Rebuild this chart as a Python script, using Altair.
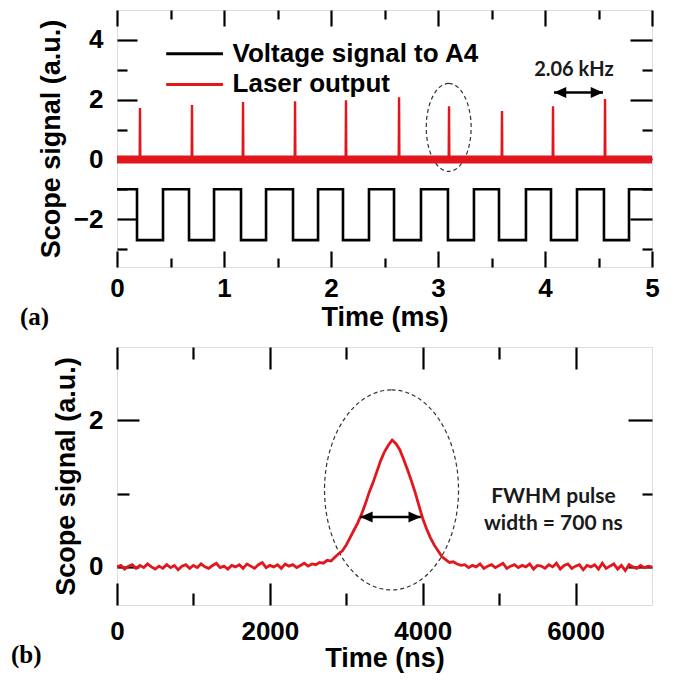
import altair as alt
import pandas as pd

# ---------------- data : panel (a) ----------------
pulse_times_ms = [0.215, 0.701, 1.178, 1.664, 2.140, 2.636, 3.103, 3.598, 4.075, 4.561]
pulse_heights = [1.72, 1.82, 1.92, 1.95, 1.98, 2.08, 1.78, 1.62, 1.78, 2.02]
laser_baseline = 0.0
fall_times_ms = [0.187, 0.673, 1.159, 1.645, 2.112, 2.589, 3.093, 3.570, 4.056, 4.551]
rise_times_ms = [0.430, 0.907, 1.393, 1.879, 2.355, 2.841, 3.336, 3.822, 4.299, 4.785]
square_high = -1.0
square_low = -2.7
time_span_ms = [0.0, 5.0]
legend_labels = ["Voltage signal to A4", "Laser output"]
freq_label = "2.06 kHz"

# ---------------- data : panel (b) ----------------
t_ns = list(range(0, 7001, 50))
signal_b = [
    0.00, 0.02, -0.03, 0.01, 0.03, -0.02, 0.02, -0.01, 0.04, 0.00,
    -0.03, 0.01, -0.02, 0.03, -0.01, 0.02, -0.04, 0.01, 0.03, -0.02,
    0.02, -0.01, 0.04, 0.00, -0.02, 0.02, 0.05, -0.01, 0.01, -0.03,
    0.02, 0.00, 0.03, -0.02, 0.04, 0.01, -0.02, 0.03, 0.06, -0.01,
    0.02, 0.00, 0.03, -0.02, 0.04, 0.01, 0.03, -0.01, 0.02, 0.05,
    0.01, 0.04, 0.03, 0.06, 0.05, 0.09, 0.08, 0.13, 0.18, 0.22,
    0.30, 0.40, 0.50, 0.60, 0.72, 0.86, 1.02, 1.15, 1.30, 1.45,
    1.57, 1.66, 1.73, 1.68, 1.60, 1.47, 1.33, 1.18, 1.02, 0.84,
    0.66, 0.52, 0.40, 0.30, 0.22, 0.14, 0.10, 0.06, 0.07, 0.04,
    0.02, 0.03, -0.01, 0.02, 0.00, 0.04, -0.02, 0.01, 0.03, -0.01,
    0.02, 0.05, -0.02, 0.01, 0.03, -0.01, 0.02, 0.00, 0.04, -0.03,
    0.02, 0.01, -0.02, 0.03, 0.00, 0.05, -0.03, 0.02, 0.04, -0.02,
    0.01, 0.03, -0.04, 0.02, 0.00, 0.03, -0.03, 0.05, -0.02, 0.01,
    0.04, -0.03, 0.02, -0.05, 0.03, 0.00, -0.02, 0.02, -0.01, 0.01,
    0.00,
]
fwhm_label = ["FWHM pulse", "width = 700 ns"]

# ---------------- styling ----------------
RED = "#e2161d"
FONT = "Liberation Sans"
W = 535
H_A = 257
H_B = 258

# ---------------- tables ----------------
events = sorted([(t, "fall") for t in fall_times_ms] + [(t, "rise") for t in rise_times_ms])
sq_t, sq_v = [time_span_ms[0]], [square_high]
for t, kind in events:
    if kind == "fall":
        sq_t += [t, t]
        sq_v += [square_high, square_low]
    else:
        sq_t += [t, t]
        sq_v += [square_low, square_high]
sq_t.append(time_span_ms[1])
sq_v.append(square_high)
square_df = pd.DataFrame({"t": sq_t, "v": sq_v, "i": range(len(sq_t))})

sp_t, sp_v = [time_span_ms[0]], [laser_baseline]
for t, h in zip(pulse_times_ms, pulse_heights):
    sp_t += [t - 0.003, t, t + 0.003]
    sp_v += [laser_baseline, h, laser_baseline]
sp_t.append(time_span_ms[1])
sp_v.append(laser_baseline)
spike_df = pd.DataFrame({"t": sp_t, "v": sp_v, "i": range(len(sp_t))})

base_df = pd.DataFrame({"t": [time_span_ms[0]], "t2": [time_span_ms[1]], "v": [laser_baseline]})

pulse_df = pd.DataFrame({"t": t_ns, "v": signal_b})

# ---------------- axes helpers ----------------
def label_axis(orient, values, title, lpad, tpad):
    return alt.Axis(
        orient=orient, values=values, ticks=False, domain=False, grid=False,
        labelPadding=lpad, labelFlush=False, labelOverlap=False, format="d",
        labelFont=FONT, labelFontSize=26, labelFontWeight="bold", labelColor="black",
        title=title, titleFont=FONT, titleFontSize=27, titleFontWeight="bold",
        titleColor="black", titlePadding=tpad,
    )


def tick_axis(orient, values, offset, test, major, minor):
    return alt.Axis(
        orient=orient, values=values, offset=offset, labels=False, domain=False,
        grid=False, title=None, tickColor="black", tickWidth=2.2,
        tickSize={"condition": {"test": test, "value": major}, "value": minor},
    )


# ---------------- panel (a) ----------------
xs_a = alt.Scale(domain=[0, 5], nice=False, zero=False)
ys_a = alt.Scale(domain=[-3.6, 5], nice=False, zero=False)
xt_a = [0, 0.5, 1, 1.5, 2, 2.5, 3, 3.5, 4, 4.5, 5]
yt_a = [-3, -2, -1, 0, 1, 2, 3, 4]

sq = alt.Chart(square_df).mark_line(color="black", strokeWidth=2.6, interpolate="linear").encode(
    x=alt.X("t:Q", scale=xs_a, axis=label_axis("bottom", [0, 1, 2, 3, 4, 5], "Time (ms)", 8, 3)),
    y=alt.Y("v:Q", scale=ys_a, axis=label_axis("left", [-2, 0, 2, 4], "Scope signal (a.u.)", 14, 8)),
    order=alt.Order("i:Q"),
)
base = alt.Chart(base_df).mark_rule(color=RED, strokeWidth=8).encode(
    x=alt.X("t:Q", scale=xs_a, axis=tick_axis("top", xt_a, -H_A, "datum.value % 1 == 0", 16, 9)),
    x2="t2:Q",
    y=alt.Y("v:Q", scale=ys_a, axis=tick_axis("right", yt_a, -W, "datum.value % 2 == 0", 20, 10)),
)
spikes = alt.Chart(spike_df).mark_line(color=RED, strokeWidth=2.4).encode(
    x=alt.X("t:Q", scale=xs_a, axis=tick_axis("bottom", xt_a, -H_A, "datum.value % 1 == 0", 16, 9)),
    y=alt.Y("v:Q", scale=ys_a, axis=tick_axis("left", yt_a, -W, "datum.value % 2 == 0", 22, 10)),
    order=alt.Order("i:Q"),
)

leg_df = pd.DataFrame({
    "x1": [0.46, 0.46], "x2": [0.99, 0.99], "y": [3.54, 2.51],
    "tx": [1.08, 1.08], "label": legend_labels, "c": ["black", RED],
})
leg_lines = alt.Chart(leg_df).mark_rule(strokeWidth=3).encode(
    x=alt.X("x1:Q", scale=xs_a, axis=None), x2="x2:Q",
    y=alt.Y("y:Q", scale=ys_a, axis=None),
    color=alt.Color("c:N", scale=None),
)
leg_text = alt.Chart(leg_df).mark_text(
    align="left", baseline="middle", font=FONT, fontSize=26, fontWeight="bold", color="black"
).encode(
    x=alt.X("tx:Q", scale=xs_a, axis=None), y=alt.Y("y:Q", scale=ys_a, axis=None), text="label:N"
)

ann_a = pd.DataFrame({"x": [4.27], "y": [2.98], "label": [freq_label]})
freq_text = alt.Chart(ann_a).mark_text(
    font="Lato", fontSize=20, fontWeight="bold", color="#1a1a1a", baseline="middle"
).encode(x=alt.X("x:Q", scale=xs_a, axis=None), y=alt.Y("y:Q", scale=ys_a, axis=None), text="label:N")

arrow_a = pd.DataFrame({"x1": [4.084], "x2": [4.542], "y": [2.24]})
arr_line_a = alt.Chart(arrow_a).mark_rule(color="black", strokeWidth=2.5).encode(
    x=alt.X("x1:Q", scale=xs_a, axis=None), x2="x2:Q", y=alt.Y("y:Q", scale=ys_a, axis=None)
)
LEFT_HEAD = "M 0 0 L 2 -0.9 L 2 0.9 Z"
RIGHT_HEAD = "M 0 0 L -2 -0.9 L -2 0.9 Z"
arr_l_a = alt.Chart(arrow_a).mark_point(shape=LEFT_HEAD, filled=True, color="black", size=150, opacity=1).encode(
    x=alt.X("x1:Q", scale=xs_a, axis=None), y=alt.Y("y:Q", scale=ys_a, axis=None)
)
arr_r_a = alt.Chart(arrow_a).mark_point(shape=RIGHT_HEAD, filled=True, color="black", size=150, opacity=1).encode(
    x=alt.X("x2:Q", scale=xs_a, axis=None), y=alt.Y("y:Q", scale=ys_a, axis=None)
)

ell_a = pd.DataFrame({"x": [3.10], "y": [1.07]})
ellipse_a = alt.Chart(ell_a).mark_point(
    shape="M 0 -1 A 0.51 1 0 1 1 0 1 A 0.51 1 0 1 1 0 -1 Z",
    filled=False, color="#333333", strokeWidth=1.2, strokeDash=[4, 3], size=7744, opacity=1,
).encode(x=alt.X("x:Q", scale=xs_a, axis=None), y=alt.Y("y:Q", scale=ys_a, axis=None))

tag_a = alt.Chart(pd.DataFrame({"label": ["(a)"]})).mark_text(
    align="left", baseline="middle", font="Liberation Serif", fontSize=25, fontWeight="bold", color="black"
).encode(x=alt.value(-97), y=alt.value(H_A + 50), text="label:N")

panel_a = alt.layer(
    ellipse_a, sq, base, spikes, leg_lines, leg_text, freq_text, arr_line_a, arr_l_a, arr_r_a, tag_a
).resolve_axis(x="independent", y="independent").properties(width=W, height=H_A)

# ---------------- panel (b) ----------------
xs_b = alt.Scale(domain=[0, 7000], nice=False, zero=False)
ys_b = alt.Scale(domain=[-0.52, 3.0], nice=False, zero=False)
xt_b = [0, 1000, 2000, 3000, 4000, 5000, 6000]
yt_b = [0, 1, 2]

trace = alt.Chart(pulse_df).mark_line(color=RED, strokeWidth=2.8).encode(
    x=alt.X("t:Q", scale=xs_b, axis=label_axis("bottom", [0, 2000, 4000, 6000], "Time (ns)", 13, 1)),
    y=alt.Y("v:Q", scale=ys_b, axis=label_axis("left", [0, 2], "Scope signal (a.u.)", 14, 8)),
)
ticks_b1 = alt.Chart(pulse_df).mark_line(opacity=0).encode(
    x=alt.X("t:Q", scale=xs_b, axis=tick_axis("top", xt_b, -H_B, "datum.value % 2000 == 0", 22, 12)),
    y=alt.Y("v:Q", scale=ys_b, axis=tick_axis("right", yt_b, -W, "datum.value % 2 == 0", 22, 12)),
)
ticks_b2 = alt.Chart(pulse_df).mark_line(opacity=0).encode(
    x=alt.X("t:Q", scale=xs_b, axis=tick_axis("bottom", xt_b, -H_B, "datum.value % 2000 == 0", 22, 12)),
    y=alt.Y("v:Q", scale=ys_b, axis=tick_axis("left", yt_b, -W, "datum.value % 2 == 0", 24, 10)),
)

ell_b = pd.DataFrame({"x": [3592], "y": [1.05]})
ellipse_b = alt.Chart(ell_b).mark_point(
    shape="M 0 -1 A 0.67 1 0 1 1 0 1 A 0.67 1 0 1 1 0 -1 Z",
    filled=False, color="#333333", strokeWidth=1.2, strokeDash=[4, 3], size=40000, opacity=1,
).encode(x=alt.X("x:Q", scale=xs_b, axis=None), y=alt.Y("y:Q", scale=ys_b, axis=None))

arrow_b = pd.DataFrame({"x1": [3184], "x2": [3974], "y": [0.68]})
arr_line_b = alt.Chart(arrow_b).mark_rule(color="black", strokeWidth=2.5).encode(
    x=alt.X("x1:Q", scale=xs_b, axis=None), x2="x2:Q", y=alt.Y("y:Q", scale=ys_b, axis=None)
)
arr_l_b = alt.Chart(arrow_b).mark_point(shape=LEFT_HEAD, filled=True, color="black", size=150, opacity=1).encode(
    x=alt.X("x1:Q", scale=xs_b, axis=None), y=alt.Y("y:Q", scale=ys_b, axis=None)
)
arr_r_b = alt.Chart(arrow_b).mark_point(shape=RIGHT_HEAD, filled=True, color="black", size=150, opacity=1).encode(
    x=alt.X("x2:Q", scale=xs_b, axis=None), y=alt.Y("y:Q", scale=ys_b, axis=None)
)

fw_df = pd.DataFrame({"x": [5710, 5710], "y": [0.95, 0.58], "label": fwhm_label})
fw_text = alt.Chart(fw_df).mark_text(
    font="Lato", fontSize=21, fontWeight="bold", color="#1a1a1a", baseline="middle"
).encode(x=alt.X("x:Q", scale=xs_b, axis=None), y=alt.Y("y:Q", scale=ys_b, axis=None), text="label:N")

tag_b = alt.Chart(pd.DataFrame({"label": ["(b)"]})).mark_text(
    align="left", baseline="middle", font="Liberation Serif", fontSize=25, fontWeight="bold", color="black"
).encode(x=alt.value(-106), y=alt.value(H_B + 50), text="label:N")

panel_b = alt.layer(
    ellipse_b, trace, ticks_b1, ticks_b2, arr_line_b, arr_l_b, arr_r_b, fw_text, tag_b
).resolve_axis(x="independent", y="independent").properties(width=W, height=H_B)

chart = alt.vconcat(panel_a, panel_b, spacing=14).properties(
    padding={"left": 2, "top": 0, "right": 5, "bottom": 2}
).configure_view(stroke="black", strokeWidth=2.5).configure(background="white")

chart.save("out.html", embed_options={"renderer": "svg", "actions": False})
